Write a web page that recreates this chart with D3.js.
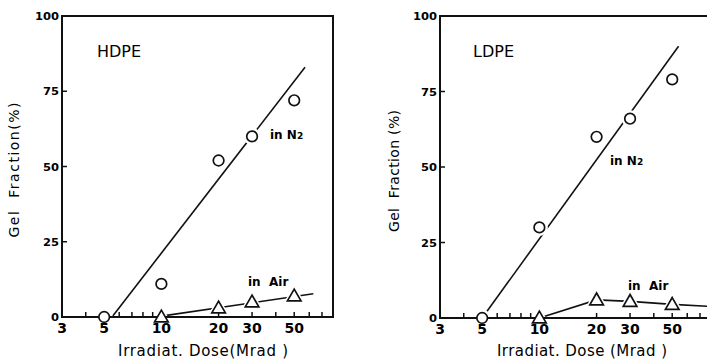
<!DOCTYPE html>
<html>
<head>
<meta charset="utf-8">
<script src="https://cdn.jsdelivr.net/npm/d3@7"></script>
<style>
  body { margin: 0; background: #fff; }
  svg { display: block; }
  text { font-family: "DejaVu Sans", sans-serif; fill: #000; }
</style>
</head>
<body>
<svg id="chart" width="707" height="359"></svg>
<script>
// dose (Mrad) and gel fraction (%)
var doses = [5, 10, 20, 30, 50];
var airDoses = [10, 20, 30, 50];

var hdpeN2 = [0, 11, 52, 60, 72];
var hdpeAir = [0, 3, 5, 7];
var hdpeN2FitDose = [5.5, 57];
var hdpeN2Fit = [0, 83];
var hdpeAirFitDose = [10, 63];
var hdpeAir_fit = [0.3, 7.7];

var ldpeN2 = [0, 30, 60, 66, 79];
var ldpeAir = [0, 6, 5.5, 4.5];
var ldpeN2FitDose = [5, 54];
var ldpeN2Fit = [0, 90];
var ldpeAirCurveDose = [10, 20, 30, 50, 80];
var ldpeAirCurve = [0, 6, 5.5, 4.5, 3.8];

var yTicks = [0, 25, 50, 75, 100];
var xTicks = [3, 4, 5, 6, 7, 8, 9, 10, 20, 30, 40, 50, 60, 70];
var xTickLabels = [3, 5, 10, 20, 30, 50];

var svg = d3.select("#chart");

var panels = [
  { name: "HDPE", x0: 62, y0: 317, n2: hdpeN2, air: hdpeAir,
    n2FitX: hdpeN2FitDose, n2FitY: hdpeN2Fit, airFitX: hdpeAirFitDose, airFitY: hdpeAir_fit,
    yTitle: "Gel  Fraction(%)", yTitleX: 19, yTitleLen: 135,
    xTitle: "Irradiat. Dose(Mrad )", xTitleX: 118, xTitleLen: 170,
    n2Lab: [270, 139], airLab: [248, 286] },
  { name: "LDPE", x0: 440, y0: 318, n2: ldpeN2, air: ldpeAir,
    n2FitX: ldpeN2FitDose, n2FitY: ldpeN2Fit, airFitX: ldpeAirCurveDose, airFitY: ldpeAirCurve,
    yTitle: "Gel  Fraction (%)", yTitleX: 399, yTitleLen: 122,
    xTitle: "Irradiat. Dose (Mrad )", xTitleX: 497, xTitleLen: 170,
    n2Lab: [610, 165], airLab: [628, 290] }
];

var tri = d3.symbol().type(d3.symbolTriangle).size(80);
var triHalo = d3.symbol().type(d3.symbolTriangle).size(200);

panels.forEach(function(p) {
  var x = d3.scaleLog().domain([3, 80]).range([p.x0, p.x0 + 271]);
  var y = d3.scaleLinear().domain([0, 100]).range([p.y0, 16]);
  var g = svg.append("g");

  var line = d3.line()
      .x(function(d) { return x(d[0]); })
      .y(function(d) { return y(d[1]); });

  g.append("path")
      .attr("d", line(d3.zip(p.n2FitX, p.n2FitY)))
      .attr("fill", "none").attr("stroke", "#111").attr("stroke-width", 1.6);
  g.append("path")
      .attr("d", line(d3.zip(p.airFitX, p.airFitY)))
      .attr("fill", "none").attr("stroke", "#111").attr("stroke-width", 1.6);

  // white halos make the little gaps round the markers
  g.selectAll(".halo-c")
    .data(d3.zip(doses, p.n2))
    .enter().append("circle")
      .attr("cx", function(d) { return x(d[0]); })
      .attr("cy", function(d) { return y(d[1]); })
      .attr("r", 8.5)
      .attr("fill", "#fff");
  g.selectAll(".halo-t")
    .data(d3.zip(airDoses, p.air))
    .enter().append("path")
      .attr("d", triHalo)
      .attr("transform", function(d) { return "translate(" + x(d[0]) + "," + (y(d[1]) + 1) + ")"; })
      .attr("fill", "#fff");

  // frame
  g.append("rect")
      .attr("x", x(3)).attr("y", y(100))
      .attr("width", x(80) - x(3)).attr("height", y(0) - y(100))
      .attr("fill", "none").attr("stroke", "#111").attr("stroke-width", 2);

  // y ticks
  g.selectAll(".yt")
    .data(yTicks)
    .enter().append("line")
      .attr("x1", x(3)).attr("x2", x(3) + 5)
      .attr("y1", function(d) { return y(d); })
      .attr("y2", function(d) { return y(d); })
      .attr("stroke", "#111").attr("stroke-width", 1.5);
  g.selectAll(".yl")
    .data(yTicks)
    .enter().append("text")
      .attr("x", x(3) - 3)
      .attr("y", function(d) { return y(d) + 4; })
      .attr("text-anchor", "end")
      .attr("font-size", 11)
      .attr("font-weight", "bold")
      .attr("textLength", function(d) { return String(d).length * 8; })
      .attr("lengthAdjust", "spacingAndGlyphs")
      .text(function(d) { return d; });

  // x ticks
  g.selectAll(".xt")
    .data(xTicks)
    .enter().append("line")
      .attr("x1", function(d) { return x(d); })
      .attr("x2", function(d) { return x(d); })
      .attr("y1", y(0)).attr("y2", y(0) - 5)
      .attr("stroke", "#111").attr("stroke-width", 1.5);
  g.selectAll(".xl")
    .data(xTickLabels)
    .enter().append("text")
      .attr("x", function(d) { return x(d); })
      .attr("y", y(0) + 16)
      .attr("text-anchor", "middle")
      .attr("font-size", 14)
      .attr("font-weight", "bold")
      .text(function(d) { return d; });

  // markers
  g.selectAll(".c")
    .data(d3.zip(doses, p.n2))
    .enter().append("circle")
      .attr("cx", function(d) { return x(d[0]); })
      .attr("cy", function(d) { return y(d[1]); })
      .attr("r", 5.3)
      .attr("fill", "#fff").attr("stroke", "#111").attr("stroke-width", 1.7);
  g.selectAll(".t")
    .data(d3.zip(airDoses, p.air))
    .enter().append("path")
      .attr("d", tri)
      .attr("transform", function(d) { return "translate(" + x(d[0]) + "," + (y(d[1]) + 1) + ")"; })
      .attr("fill", "#fff").attr("stroke", "#111").attr("stroke-width", 1.7);

  // labels
  g.append("text")
      .attr("x", p.x0 + (p.name === "HDPE" ? 35 : 33)).attr("y", 57)
      .attr("font-size", 16)
      .text(p.name);

  var n2 = g.append("text")
      .attr("x", p.n2Lab[0]).attr("y", p.n2Lab[1])
      .attr("font-size", 12).attr("font-weight", "bold");
  n2.append("tspan").text(p.name === "HDPE" ? "in N" : "in   N");
  n2.append("tspan").attr("font-size", 9).text("2");

  g.append("text")
      .attr("x", p.airLab[0]).attr("y", p.airLab[1])
      .attr("font-size", 12).attr("font-weight", "bold")
      .attr("xml:space", "preserve")
      .text("in  Air");

  g.append("text")
      .attr("transform", "translate(" + p.yTitleX + "," + (p.y0 - 147) + ") rotate(-90)")
      .attr("text-anchor", "middle")
      .attr("font-size", 14)
      .attr("textLength", p.yTitleLen)
      .attr("lengthAdjust", "spacing")
      .attr("xml:space", "preserve")
      .text(p.yTitle);

  g.append("text")
      .attr("x", p.xTitleX).attr("y", 356)
      .attr("font-size", 15)
      .attr("textLength", p.xTitleLen)
      .attr("lengthAdjust", "spacing")
      .text(p.xTitle);
});
</script>
</body>
</html>
